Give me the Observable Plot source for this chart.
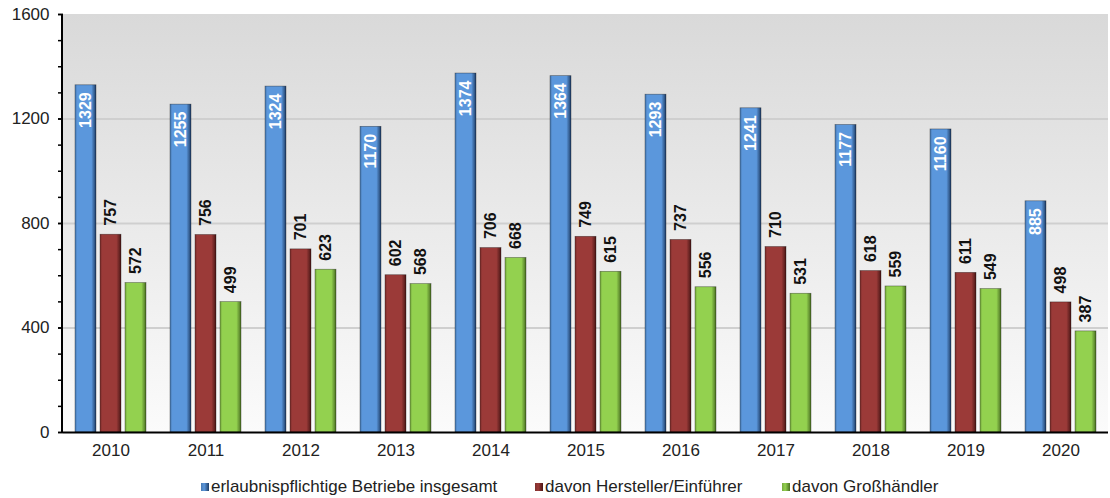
<!DOCTYPE html>
<html><head><meta charset="utf-8">
<script src="https://cdn.jsdelivr.net/npm/d3@7"></script>
<script src="https://cdn.jsdelivr.net/npm/@observablehq/plot@0.6"></script>
<style>
body{margin:0;background:#fff;font-family:"Liberation Sans",Arial,sans-serif;}
#legend{position:relative;height:32px;width:1110px;font-size:17px;color:#222;}
#legend .item{position:absolute;top:11px;height:20px;line-height:20px;white-space:nowrap;}
#legend .sw{display:inline-block;width:8px;height:8px;margin-right:2px;vertical-align:middle;position:relative;top:-1px;}
</style></head><body>
<div id="chart"></div>
<div id="legend"></div>
<script>
const years = ["2010","2011","2012","2013","2014","2015","2016","2017","2018","2019","2020"];
const seriesNames = ["erlaubnispflichtige Betriebe insgesamt","davon Hersteller/Einführer","davon Großhändler"];
const insgesamt = [1329,1255,1324,1170,1374,1364,1293,1241,1177,1160,885];
const hersteller = [757,756,701,602,706,749,737,710,618,611,498];
const grosshaendler = [572,499,623,568,668,615,556,531,559,549,387];
const yTicks = [0,400,800,1200,1600];
const yMinorTicks = d3.range(0,1601,100);
const gridTicks = [400,800,1200];
const baseColors = ["#5b97dc","#9b3a38","#93d14f"];
const darkColors = ["#1f3d66","#4a1716","#4a6f23"];
const gradIds = ["gBlue","gRed","gGreen"];

const seriesValues = [insgesamt, hersteller, grosshaendler];
const data = [];
years.forEach((yr,i)=>seriesNames.forEach((s,k)=>data.push({year:yr, series:s, value:seriesValues[k][i]})));

const plot = Plot.plot({
  width:1110, height:466,
  marginLeft:62, marginRight:2, marginTop:14, marginBottom:34,
  style:{fontFamily:"'Liberation Sans', Arial, sans-serif", fontSize:"17px", background:"transparent", color:"#222"},
  fx:{domain:years, padding:0, label:null},
  x:{domain:seriesNames, paddingInner:0.144, paddingOuter:0.42, axis:null},
  y:{domain:[0,1600], axis:null, label:null},
  color:{domain:seriesNames, range:gradIds.map(d=>`url(#${d})`)},
  marks:[
    Plot.ruleY(gridTicks, {stroke:"#cfcfcf", strokeWidth:2}),
    Plot.barY(data, {fx:"year", x:"series", y:"value", fill:"series", stroke:"rgba(0,0,0,0.45)", strokeWidth:0.7}),
    Plot.ruleY([0], {stroke:"#000", strokeWidth:2}),
    Plot.text(data.filter(d=>d.series===seriesNames[0]), {fx:"year", x:"series", y:"value", text:d=>String(d.value), rotate:-90, textAnchor:"end", dy:7, fill:"white", fontWeight:"bold", fontSize:16}),
    Plot.text(data.filter(d=>d.series!==seriesNames[0]), {fx:"year", x:"series", y:"value", text:d=>String(d.value), rotate:-90, textAnchor:"start", dy:-9, fill:"#111", fontWeight:"bold", fontSize:16}),
    Plot.axisY({ticks:yMinorTicks, tickSize:5, text:null, label:null, stroke:"#000", strokeWidth:1.5}),
    Plot.axisY({ticks:yTicks, tickSize:5, tickPadding:9, tickFormat:"d", label:null, stroke:"#000", strokeWidth:1.5, fill:"#222", fontSize:17}),
    Plot.axisFx({anchor:"bottom", tickSize:0, tickPadding:11, fill:"#222", fontSize:17, label:null})
  ]
});

const svg = d3.select(plot);
const defs = svg.insert("defs", ":first-child");
const bg = defs.append("linearGradient").attr("id","bgGrad").attr("x1",0).attr("y1",0).attr("x2",0).attr("y2",1);
bg.append("stop").attr("offset","0%").attr("stop-color","#d9d9d9");
bg.append("stop").attr("offset","100%").attr("stop-color","#fbfbfb");
gradIds.forEach((id,k)=>{
  const g = defs.append("linearGradient").attr("id",id).attr("x1",0).attr("y1",0).attr("x2",1).attr("y2",0);
  const c = d3.color(baseColors[k]);
  g.append("stop").attr("offset","0%").attr("stop-color",c.darker(0.6));
  g.append("stop").attr("offset","12%").attr("stop-color",c);
  g.append("stop").attr("offset","78%").attr("stop-color",c);
  g.append("stop").attr("offset","100%").attr("stop-color",darkColors[k]);
});
// background panel and left axis line from the plot's own scales
const fxs = plot.scale("fx"), ys = plot.scale("y");
const x0 = fxs.range[0], x1 = fxs.range[1];
svg.insert("rect", "defs + *")
  .attr("x", x0).attr("y", ys.apply(1600))
  .attr("width", x1 - x0).attr("height", ys.apply(0) - ys.apply(1600))
  .attr("fill", "url(#bgGrad)");
svg.append("line")
  .attr("x1", x0).attr("x2", x0)
  .attr("y1", ys.apply(0)+1).attr("y2", ys.apply(1600))
  .attr("stroke","#000").attr("stroke-width",2);

document.getElementById("chart").appendChild(plot);

const legendPos = [201, 535, 782];
const legend = d3.select("#legend");
seriesNames.forEach((s,k)=>{
  const it = legend.append("div").attr("class","item").style("left", legendPos[k]+"px");
  it.append("span").attr("class","sw").style("background",`linear-gradient(90deg, ${d3.color(baseColors[k]).darker(0.6)}, ${baseColors[k]} 40%, ${darkColors[k]})`);
  it.append("span").text(s);
});
</script></body></html>
